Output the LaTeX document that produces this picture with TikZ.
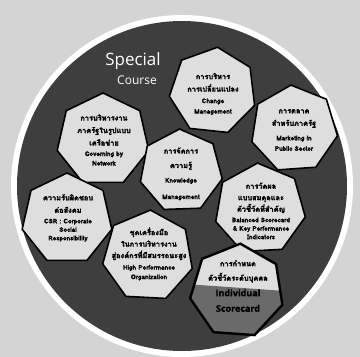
\documentclass[tikz,border=0pt]{standalone}
\usepackage{fontspec}
\newfontfamily\thai[Script=Thai,FakeBold=2.2]{Loma}
\newfontfamily\headfont{Open Sans}
\newfontfamily\headb[FakeBold=1.2]{Open Sans}
\usetikzlibrary{shapes.geometric}
\definecolor{bgc}{HTML}{D4D4D4}
\definecolor{ringc}{HTML}{3E3E3E}
\definecolor{heptfill}{HTML}{DEDEDE}
\definecolor{darkpart}{HTML}{6A6A6A}
\newcommand{\en}[1]{{\fontsize{6.4}{9}\selectfont #1}}
\newcommand{\enbig}[1]{{\headb\fontsize{9}{10}\selectfont #1}}
\begin{document}
\begin{tikzpicture}[x=1pt,y=-1pt,
  hept/.style={regular polygon, regular polygon sides=7, draw=black, line width=1.6pt, fill=heptfill, inner sep=0pt},
  htxt/.style={align=center, font=\thai\bfseries\fontsize{7.4}{12.5}\selectfont, text=black},
  headtxt/.style={font=\headfont, text=white}]
\useasboundingbox (0,0) rectangle (360,357);
\fill[bgc] (0,0) rectangle (360,357);
\fill[white] (182,186) circle (171pt);
\fill[ringc] (182,186) circle (165pt);
\node[headtxt, font=\headfont\fontsize{17}{17}\selectfont] (sp) at (133,61) {Special};
\node[headtxt, font=\headfont\fontsize{12}{12}\selectfont] (co) at (137,80) {Course};
% heptagons
\node[hept, minimum size=88pt, rotate=-6] (cm) at (213,91) {};
\node[hept, minimum size=88pt, rotate=4] (mk) at (294,129) {};
\node[hept, minimum size=94pt] (gn) at (103,140) {};
\node[hept, minimum size=84pt, rotate=2] (km) at (181,171) {};
\node[hept, minimum size=92pt] (csr) at (67,219) {};
\node[hept, minimum size=92pt, rotate=-3] (hpo) at (148,256) {};
\node[hept, minimum size=92pt, rotate=3] (bsc) at (260,209) {};
\node[hept, minimum size=94pt, rotate=-4, path picture={
   \fill[darkpart] ([yshift=5pt]path picture bounding box.west) rectangle ([xshift=10pt,yshift=-10pt]path picture bounding box.south east);}] (ind) at (237,291) {};
\draw[black, line width=1.6pt] (ind.corner 1) -- (ind.corner 2) -- (ind.corner 3) -- (ind.corner 4) -- (ind.corner 5) -- (ind.corner 6) -- (ind.corner 7) -- cycle;
% texts
\node[htxt] (tcm) at (213,94) {การบริหาร\\[0pt] การเปลี่ยนแปลง\\[-1pt] \en{Change}\\[-2pt] \en{Management}};
\node[htxt] (tmk) at (294,130) {การตลาด\\[0pt] สำหรับภาครัฐ\\[2pt] \en{Marketing in}\\[-2pt] \en{Public Sector}};
\node[htxt] (tgn) at (104,140) {การบริหารงาน\\[0pt] ภาครัฐในรูปแบบ\\[0pt] เครือข่าย\\[-2pt] \en{Governing by}\\[-3pt] \en{Network}};
\node[htxt] (tkm) at (181,174) {การจัดการ\\[2pt] ความรู้\\[2pt] \en{Knowledge}\\[4pt] \en{Management}};
\node[htxt] (tcsr) at (68,218) {ความรับผิดชอบ\\[0pt] ต่อสังคม\\[-2pt] \en{CSR : Corporate}\\[-4pt] \en{Social}\\[-4pt] \en{Responsibility}};
\node[htxt] (thpo) at (149,254) {ชุดเครื่องมือ\\[-1pt] ในการบริหารงาน\\[-1pt] สู่องค์กรที่มีสมรรถนะสูง\\[-1pt] \en{High Performance}\\[-3pt] \en{Organization}};
\node[htxt] (tbsc) at (261,211) {การวัดผล\\[-1pt] แบบสมดุลและ\\[-1pt] ตัวชี้วัดที่สำคัญ\\[-2pt] \en{Balanced Scorecard}\\[-4pt] \en{\& Key Performance}\\[-4pt] \en{Indicators}};
\node[htxt] (tind) at (238,286) {การกำหนด\\[2pt] ตัวชี้วัดระดับบุคคล\\[3pt] \enbig{Individual}\\[3pt] \enbig{Scorecard}};
\end{tikzpicture}
\end{document}
